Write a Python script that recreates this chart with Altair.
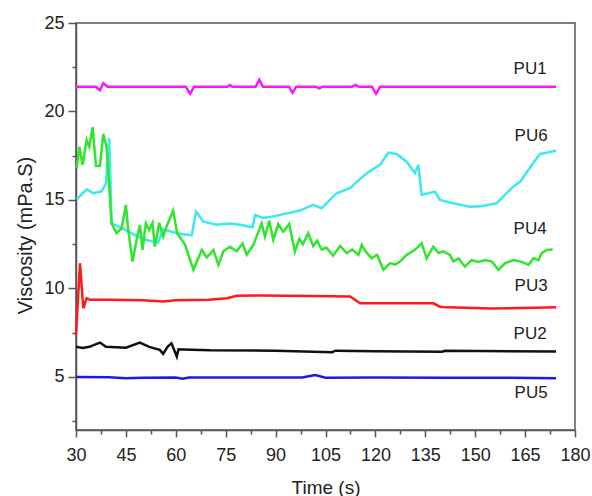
import altair as alt
import pandas as pd

series_names = ["PU1", "PU6", "PU4", "PU3", "PU2", "PU5"]
series_colors = ["#ff14ff", "#3ce8f2", "#2ee62e", "#ff1a1a", "#111111", "#1a1ae6"]

pu1_t = [30, 36, 37.2, 38.2, 39.5, 63, 64.3, 65.5, 75.5, 76.3, 77, 84, 85.1, 86.2, 94, 95.1,
         96.2, 102, 103.1, 104.2, 113, 114, 115, 119, 120.2, 121.4, 174.3]
pu1_v = [21.4, 21.4, 21.2, 21.6, 21.4, 21.4, 21.0, 21.4, 21.4, 21.5, 21.4, 21.4, 21.8, 21.4, 21.4, 21.05,
         21.4, 21.4, 21.3, 21.4, 21.4, 21.5, 21.4, 21.4, 21.0, 21.4, 21.4]

pu6_t = [30.2, 33.2, 35.2, 37.7, 39, 40, 40.7, 43.2, 48.2, 51.2, 54.7, 56.2, 60.3, 64.8, 66.1, 68.3,
         72.3, 76.3, 79.3, 83.1, 83.8, 86.3, 89.3, 93.3, 97.3, 101.3, 103.8, 108.3, 112.4, 113.9,
         117.4, 121.4, 123.9, 126.4, 129.4, 131.9, 132.9, 133.9, 137.9, 139.4, 143.4, 148.4, 152,
         156.4, 161.4, 163.5, 167.4, 169.5, 171.5, 174.3]
pu6_v = [15.04, 15.6, 15.38, 15.49, 15.94, 18.49, 13.68, 13.46, 12.97, 12.74, 12.59, 13.34, 13.12, 13.0,
         14.34, 13.77, 13.6, 13.67, 13.6, 13.46, 14.15, 13.98, 14.06, 14.24, 14.4, 14.72, 14.53,
         15.38, 15.66, 15.94, 16.51, 16.98, 17.67, 17.6, 17.16, 16.51, 16.98, 15.28, 15.47, 15.0,
         14.81, 14.62, 14.65, 14.81, 15.75, 16.03, 17.07, 17.6, 17.67, 17.79]

pu4_t = [30.2, 31, 32, 33.2, 34, 35, 36, 37.2, 38.2, 39.2, 40.7, 42.2, 43.7, 45, 45.7, 47, 48.4,
         49.2, 50, 51, 52, 53, 53.7, 55, 56.2, 57.4, 59.2, 60.4, 62.8, 65.3, 67.8, 69.3, 71.3,
         72.8, 74.3, 76.3, 78.3, 80.1, 81.3, 83.3, 85.8, 86.8, 88.1, 89.3, 90.8, 92.3, 94.1, 95.8,
         97.1, 98.2, 99.8, 101.3, 102.5, 103.8, 105.3, 107.3, 109.4, 111.4, 113, 114.9, 115.9,
         117, 118.9, 120.5, 122.4, 124.4, 126, 127.4, 129.4, 131.9, 133.9, 135.4, 137.4, 139,
         140.4, 142.4, 143.4, 145, 146.9, 148.9, 151, 153, 155, 157, 159, 161.5, 164, 166, 167.5,
         169, 170, 171.5, 173.3]
pu4_v = [16.79, 18.01, 16.98, 18.39, 18.01, 19.11, 16.92, 16.92, 18.73, 18.0, 13.68, 13.12, 13.4,
         14.72, 13.3, 11.52, 12.93, 13.59, 12.18, 13.68, 13.3, 13.7, 12.36, 13.7, 12.93, 13.59,
         14.4, 13.12, 12.46, 11.05, 12.18, 11.75, 12.18, 11.33, 12.1, 12.36, 12.1, 12.55, 11.9,
         12.46, 13.68, 12.93, 13.83, 12.75, 13.64, 13.2, 13.64, 12.08, 12.8, 12.5, 13.12, 12.4,
         12.7, 12.2, 12.3, 11.85, 12.4, 12.0, 12.2, 11.9, 12.46, 12.1, 11.7, 11.9, 11.05, 11.43,
         11.35, 11.52, 11.9, 12.18, 12.55, 11.7, 12.36, 12.0, 12.1, 11.9, 11.52, 11.7, 11.23,
         11.6, 11.5, 11.6, 11.52, 11.05, 11.43, 11.6, 11.5, 11.33, 11.7, 11.6, 12.0, 12.18, 12.2]

pu3_t = [30, 31.2, 32.2, 33.2, 34.2, 40, 50, 56.2, 60, 70, 75.4, 78.3, 85.3, 100, 112.4, 115.4,
         137.4, 139.4, 141.4, 155, 165, 174.3]
pu3_v = [7.37, 11.42, 8.88, 9.45, 9.36, 9.36, 9.33, 9.26, 9.33, 9.36, 9.45, 9.58, 9.6, 9.57, 9.55,
         9.16, 9.16, 8.97, 8.93, 8.87, 8.9, 8.93]

pu2_t = [30, 32, 34, 37.2, 39, 45, 49.2, 52, 55.2, 56.2, 57.5, 58.7, 60.3, 60.8, 62, 70.3, 90,
         107, 108, 120, 140, 141, 174.3]
pu2_v = [6.71, 6.63, 6.7, 6.94, 6.7, 6.65, 6.94, 6.7, 6.53, 6.3, 6.7, 6.9, 6.15, 6.56, 6.55, 6.5,
         6.48, 6.4, 6.48, 6.45, 6.42, 6.48, 6.43]

pu5_t = [30, 40, 45, 50, 60, 62, 64, 80, 98, 101.9, 105, 120, 140, 160, 174.3]
pu5_v = [5.0, 4.98, 4.93, 4.95, 4.97, 4.9, 4.97, 4.96, 4.97, 5.1, 4.95, 4.96, 4.95, 4.95, 4.93]

label_names = ["PU1", "PU6", "PU4", "PU3", "PU2", "PU5"]
label_x = [166.5, 166.8, 166.5, 166.8, 166.5, 166.8]
label_y = [22.4, 18.6, 13.35, 10.14, 7.43, 4.11]

x_ticks = [30, 45, 60, 75, 90, 105, 120, 135, 150, 165, 180]
x_minor = [37.5, 52.5, 67.5, 82.5, 97.5, 112.5, 127.5, 142.5, 157.5, 172.5]
y_ticks = [5, 10, 15, 20, 25]
y_minor = [2.5, 7.5, 12.5, 17.5, 22.5]

rows = []
for name, ts, vs in [("PU1", pu1_t, pu1_v), ("PU6", pu6_t, pu6_v), ("PU4", pu4_t, pu4_v),
                     ("PU3", pu3_t, pu3_v), ("PU2", pu2_t, pu2_v), ("PU5", pu5_t, pu5_v)]:
    for t, v in zip(ts, vs):
        rows.append({"series": name, "time": t, "visc": v})
df = pd.DataFrame(rows)
labels_df = pd.DataFrame({"label": label_names, "lx": label_x, "ly": label_y})

FONT = "Liberation Sans"
x_scale = alt.Scale(domain=[30, 180], nice=False, zero=False)
y_scale = alt.Scale(domain=[2, 25], nice=False, zero=False)

lines = alt.Chart(df).mark_line(strokeWidth=2.5).encode(
    x=alt.X("time:Q", scale=x_scale,
            axis=alt.Axis(values=x_ticks, tickSize=7, title="Time (s)", orient="bottom",
                          labelBaseline="alphabetic", labelPadding=23, labelFlush=False,
                          labelOverlap=False, titleY=63, titleBaseline="alphabetic",
                          titleFontSize=19, grid=False)),
    y=alt.Y("visc:Q", scale=y_scale,
            axis=alt.Axis(values=y_ticks, tickSize=8, labelPadding=4, title="Viscosity (mPa.S)",
                          orient="left", labelOverlap=False, titleX=-45, titleY=212,
                          titleBaseline="alphabetic", titleFontSize=20, grid=False)),
    color=alt.Color("series:N", scale=alt.Scale(domain=series_names, range=series_colors),
                    legend=None),
)

minor = alt.Chart(df).mark_line(opacity=0).encode(
    x=alt.X("time:Q", scale=x_scale,
            axis=alt.Axis(values=x_minor, labels=False, domain=False, tickSize=4, title=None,
                          grid=False, orient="bottom")),
    y=alt.Y("visc:Q", scale=y_scale,
            axis=alt.Axis(values=y_minor, labels=False, domain=False, tickSize=4, title=None,
                          grid=False, orient="left")),
    detail="series:N",
)

texts = alt.Chart(labels_df).mark_text(fontSize=17, font=FONT, color="#222222").encode(
    x=alt.X("lx:Q", scale=x_scale, axis=None),
    y=alt.Y("ly:Q", scale=y_scale, axis=None),
    text="label:N",
)

chart = alt.layer(lines, minor, texts).resolve_axis(
    x="independent", y="independent"
).properties(
    width=499, height=407,
    autosize=alt.AutoSizeParams(type="none"),
    padding={"left": 76, "top": 23, "right": 17, "bottom": 66},
    background="white",
).configure_view(
    stroke="#555555", strokeWidth=1.5
).configure_axis(
    domainColor="#555555", domainWidth=1.5, tickColor="#555555", tickWidth=1.5,
    labelColor="#222222", labelFont=FONT, labelFontSize=18, titleFont=FONT,
    titleColor="#222222", titleFontWeight="normal",
)

chart.save("out.html", embed_options={"renderer": "svg", "actions": False})
